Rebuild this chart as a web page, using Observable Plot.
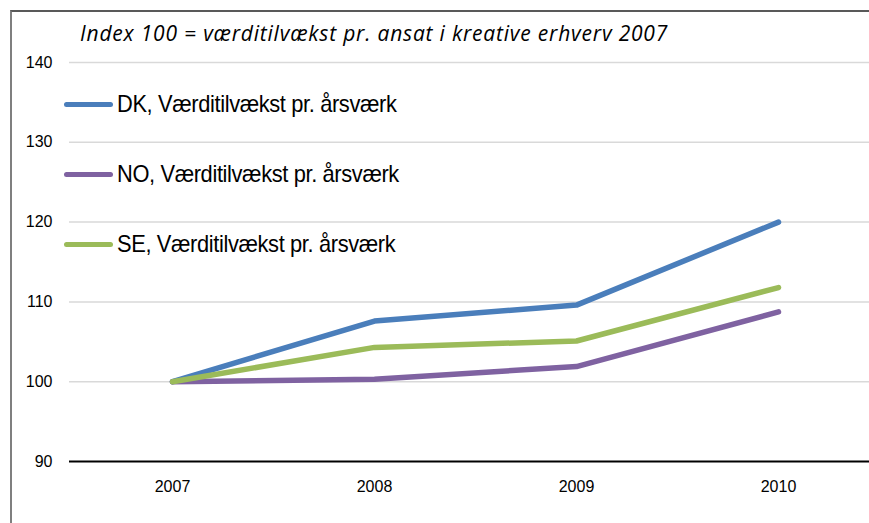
<!DOCTYPE html>
<html>
<head>
<meta charset="utf-8">
<script src="https://cdn.jsdelivr.net/npm/d3@7"></script>
<script src="https://cdn.jsdelivr.net/npm/@observablehq/plot@0.6"></script>
<style>
  html, body { margin: 0; padding: 0; background: #fff; }
  body { width: 869px; height: 523px; overflow: hidden; position: relative; }
  #frame { position: absolute; left: 10px; top: 10px; width: 900px; height: 600px;
           border-left: 2px solid #7f7f7f; border-top: 2px solid #595959; }
  #chart { position: absolute; left: 0; top: 0; }
  #chart svg text { font-size: 16px !important; }
  #title { position: absolute; left: 80px; top: 18px; font-family: "Open Sans", Lato, sans-serif;
           font-style: italic; font-size: 21px; letter-spacing: 0.8px; color: #000; white-space: nowrap;
           line-height: 30px; }
  .leg { position: absolute; left: 64px; display: flex; align-items: center; white-space: nowrap;
         font-family: "Liberation Sans", Arial, sans-serif;
         font-size: 24px; color: #000; letter-spacing: -0.4px; }
  .leg .sw { width: 49px; height: 5px; border-radius: 3px; margin-right: 4px; flex: none; }
  .leg span { display: inline-block; transform: scaleX(0.91); transform-origin: left center; }
</style>
</head>
<body>
<div id="frame"></div>
<div id="chart"></div>
<div id="title"></div>
<div id="legend"></div>
<script>
const titleText = "Index 100 = værditilvækst pr. ansat i kreative erhverv 2007";
const years = ["2007", "2008", "2009", "2010"];
const seriesNames = ["DK, Værditilvækst pr. årsværk", "NO, Værditilvækst pr. årsværk", "SE, Værditilvækst pr. årsværk"];
const seriesColors = ["#4a7ebb", "#7f62a1", "#9bbb59"];
const dkValues = [100, 107.6, 109.6, 120.0];
const noValues = [100, 100.3, 101.9, 108.75];
const seValues = [100, 104.3, 105.1, 111.8];
const yTicks = [90, 100, 110, 120, 130, 140];
const gridTicks = [100, 110, 120, 130, 140];

const allSeries = [dkValues, noValues, seValues];
const data = [];
allSeries.forEach((vals, s) => vals.forEach((v, i) => data.push({year: years[i], value: v, series: seriesNames[s]})));

const plot = Plot.plot({
  width: 869,
  height: 523,
  marginTop: 62,
  marginBottom: 62,
  marginLeft: 69,
  marginRight: -11,
  style: {fontFamily: "'Liberation Sans', Arial, sans-serif", fontSize: "16px", color: "#000", background: "transparent", overflow: "visible"},
  x: {type: "point", domain: years, padding: 0.5, label: null},
  y: {domain: [90, 140], ticks: yTicks, label: null},
  color: {domain: seriesNames, range: seriesColors},
  marks: [
    Plot.ruleY(gridTicks, {stroke: "#d9d9d9", strokeWidth: 1.5}),
    Plot.ruleY([90], {stroke: "#000", strokeWidth: 2}),
    Plot.axisY({ticks: yTicks, tickSize: 0, tickPadding: 17, label: null}),
    Plot.axisX({tickSize: 0, tickPadding: 19, label: null}),
    Plot.line(data, {x: "year", y: "value", z: "series", stroke: "series", strokeWidth: 5.5,
                     strokeLinecap: "round", strokeLinejoin: "round"})
  ]
});
document.getElementById("chart").appendChild(plot);
document.getElementById("title").textContent = titleText;

const legendTops = [104, 174, 244];
const legend = document.getElementById("legend");
seriesNames.forEach((name, i) => {
  const item = document.createElement("div");
  item.className = "leg";
  item.style.top = (legendTops[i] - 15) + "px";
  item.style.height = "30px";
  const sw = document.createElement("div");
  sw.className = "sw";
  sw.style.background = seriesColors[i];
  const label = document.createElement("span");
  label.textContent = name;
  item.appendChild(sw);
  item.appendChild(label);
  legend.appendChild(item);
});
</script>
</body>
</html>
